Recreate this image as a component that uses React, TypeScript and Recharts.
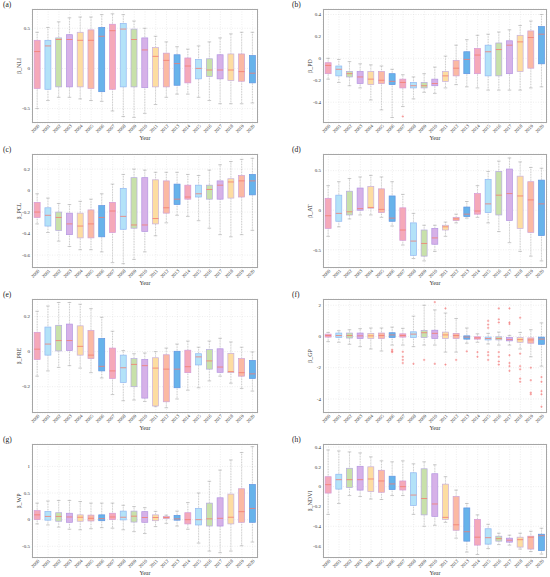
import React from 'react';
import { ComposedChart, Bar, XAxis, YAxis, CartesianGrid } from 'recharts';

const YEARS = [
  '2000', '2001', '2002', '2003', '2004', '2005', '2006', '2007', '2008', '2009', '2010',
  '2011', '2012', '2013', '2014', '2015', '2016', '2017', '2018', '2019', '2020',
];

// each row: [whisker low, q1, median, q3, whisker high]
const NLI = [
  [-0.50, -0.25, 0.21, 0.35, 0.45], [-0.40, -0.26, 0.28, 0.35, 0.51], [-0.36, -0.23, 0.36, 0.38, 0.58],
  [-0.36, -0.23, 0.36, 0.42, 0.63], [-0.38, -0.23, 0.35, 0.45, 0.64], [-0.40, -0.25, 0.35, 0.48, 0.64],
  [-0.41, -0.29, 0.40, 0.51, 0.67], [-0.53, -0.26, 0.47, 0.55, 0.68], [-0.60, -0.23, 0.49, 0.56, 0.67],
  [-0.61, -0.23, 0.36, 0.49, 0.59], [-0.56, -0.24, 0.23, 0.38, 0.50], [-0.45, -0.23, 0.15, 0.26, 0.40],
  [-0.36, -0.23, 0.10, 0.19, 0.33], [-0.32, -0.21, 0.06, 0.17, 0.27], [-0.32, -0.18, 0.03, 0.13, 0.24],
  [-0.36, -0.13, 0.00, 0.11, 0.28], [-0.40, -0.10, -0.02, 0.12, 0.33], [-0.44, -0.13, -0.02, 0.17, 0.38],
  [-0.44, -0.15, -0.02, 0.18, 0.43], [-0.44, -0.16, -0.04, 0.18, 0.45], [-0.43, -0.18, -0.06, 0.16, 0.45],
];

const PD = [
  [-0.19, -0.14, -0.065, -0.04, 0.0], [-0.22, -0.16, -0.10, -0.07, -0.01], [-0.25, -0.17, -0.14, -0.12, -0.03],
  [-0.27, -0.23, -0.17, -0.12, -0.05], [-0.38, -0.24, -0.19, -0.12, -0.06], [-0.47, -0.23, -0.20, -0.12, -0.07],
  [-0.54, -0.24, -0.21, -0.14, -0.10], [-0.44, -0.27, -0.22, -0.19, -0.15], [-0.37, -0.27, -0.25, -0.22, -0.17],
  [-0.31, -0.27, -0.25, -0.22, -0.14], [-0.32, -0.25, -0.23, -0.19, -0.08], [-0.27, -0.21, -0.16, -0.12, 0.02],
  [-0.24, -0.16, -0.09, -0.02, 0.12], [-0.26, -0.14, -0.01, 0.06, 0.17], [-0.27, -0.14, 0.03, 0.09, 0.21],
  [-0.29, -0.16, 0.06, 0.12, 0.22], [-0.29, -0.16, 0.08, 0.14, 0.24], [-0.29, -0.14, 0.12, 0.16, 0.26],
  [-0.29, -0.12, 0.15, 0.21, 0.30], [-0.27, -0.09, 0.19, 0.25, 0.34], [-0.26, -0.05, 0.22, 0.29, 0.40],
];
const PD_OUT: number[][] = [[], [], [], [], [], [], [], [-0.53]];

const PCL = [
  [-0.31, -0.25, -0.20, -0.11, -0.03], [-0.39, -0.33, -0.23, -0.16, -0.07], [-0.47, -0.37, -0.25, -0.20, -0.12],
  [-0.52, -0.41, -0.31, -0.21, -0.13], [-0.55, -0.44, -0.33, -0.21, -0.10], [-0.55, -0.44, -0.31, -0.18, -0.08],
  [-0.57, -0.43, -0.25, -0.14, -0.03], [-0.67, -0.39, -0.19, -0.11, 0.06], [-0.68, -0.36, -0.24, 0.02, 0.15],
  [-0.64, -0.35, -0.32, 0.12, 0.20], [-0.57, -0.38, -0.32, 0.12, 0.19], [-0.42, -0.31, -0.26, 0.10, 0.17],
  [-0.30, -0.21, -0.16, 0.09, 0.17], [-0.23, -0.13, -0.08, 0.06, 0.17], [-0.24, -0.08, -0.06, 0.05, 0.15],
  [-0.28, -0.06, -0.03, 0.05, 0.14], [-0.35, -0.08, 0.01, 0.05, 0.19], [-0.41, -0.08, 0.05, 0.09, 0.24],
  [-0.43, -0.07, 0.08, 0.11, 0.27], [-0.41, -0.06, 0.09, 0.14, 0.29], [-0.37, -0.04, 0.09, 0.15, 0.30],
];

const AT = [
  [-0.33, -0.23, -0.07, 0.15, 0.31], [-0.21, -0.14, -0.04, 0.19, 0.36], [-0.11, -0.06, -0.02, 0.24, 0.40],
  [-0.06, 0.00, 0.02, 0.28, 0.42], [-0.06, 0.025, 0.035, 0.30, 0.44], [-0.09, -0.03, 0.01, 0.27, 0.42],
  [-0.20, -0.14, -0.10, 0.18, 0.36], [-0.44, -0.38, -0.25, 0.03, 0.20], [-0.61, -0.57, -0.39, -0.16, -0.04],
  [-0.64, -0.58, -0.42, -0.25, -0.19], [-0.52, -0.43, -0.35, -0.23, -0.19], [-0.33, -0.25, -0.21, -0.19, -0.15],
  [-0.16, -0.13, -0.11, -0.09, -0.05], [-0.10, -0.08, -0.05, 0.04, 0.11], [-0.09, -0.05, -0.01, 0.21, 0.31],
  [-0.16, -0.03, 0.08, 0.39, 0.49], [-0.27, -0.06, 0.19, 0.49, 0.62], [-0.41, -0.13, 0.21, 0.52, 0.66],
  [-0.52, -0.23, 0.18, 0.43, 0.61], [-0.58, -0.28, 0.13, 0.36, 0.54], [-0.64, -0.32, 0.08, 0.38, 0.53],
];

const PRE = [
  [-0.14, -0.045, 0.014, 0.11, 0.23], [-0.11, -0.02, 0.043, 0.14, 0.26], [-0.09, 0.004, 0.063, 0.15, 0.28],
  [-0.08, 0.006, 0.063, 0.157, 0.28], [-0.094, -0.02, 0.03, 0.147, 0.27], [-0.12, -0.04, -0.02, 0.12, 0.245],
  [-0.15, -0.11, -0.084, 0.075, 0.196], [-0.245, -0.153, -0.11, 0.02, 0.116], [-0.28, -0.176, -0.092, -0.02, 0.006],
  [-0.276, -0.2, -0.073, -0.04, -0.012], [-0.284, -0.265, -0.08, -0.045, -0.008], [-0.314, -0.31, -0.094, -0.035, 0.0],
  [-0.32, -0.286, -0.10, -0.018, 0.02], [-0.27, -0.206, -0.10, 0.002, 0.043], [-0.22, -0.12, -0.086, 0.008, 0.06],
  [-0.206, -0.076, -0.03, -0.012, 0.025], [-0.167, -0.10, -0.053, 0.012, 0.06], [-0.14, -0.118, -0.088, 0.016, 0.076],
  [-0.18, -0.12, -0.114, -0.01, 0.055], [-0.21, -0.14, -0.12, -0.04, 0.025], [-0.225, -0.153, -0.127, -0.05, -0.002],
];

const GP = [
  [-0.33, -0.04, 0.06, 0.15, 0.26], [-0.37, -0.07, 0.06, 0.22, 0.37], [-0.50, -0.10, 0.06, 0.22, 0.43],
  [-0.65, -0.13, 0.04, 0.22, 0.50], [-0.80, -0.13, 0.04, 0.20, 0.54], [-0.93, -0.13, 0.06, 0.22, 0.54],
  [-0.55, -0.07, 0.10, 0.24, 0.60], [-0.55, -0.04, 0.06, 0.17, 0.52], [-0.65, -0.07, 0.15, 0.30, 1.30],
  [-0.55, -0.07, 0.24, 0.39, 2.0], [-0.55, -0.13, 0.20, 0.40, 1.7], [-1.0, -0.13, 0.10, 0.28, 1.5],
  [-1.0, -0.13, 0.06, 0.20, 1.15], [-0.43, -0.17, -0.04, 0.04, 0.54], [-0.37, -0.17, -0.09, -0.02, 0.17],
  [-0.48, -0.22, -0.13, -0.04, 0.20], [-0.55, -0.22, -0.13, -0.02, 0.28], [-0.55, -0.28, -0.20, -0.07, 0.07],
  [-0.80, -0.37, -0.20, -0.07, 0.26], [-1.3, -0.43, -0.22, -0.09, 0.43], [-1.9, -0.50, -0.17, -0.04, 0.87],
];
const GP_OUT: number[][] = [
  [], [], [], [], [], [],
  [-0.85, -0.95, -1.0],
  [-0.98, -1.3, -1.5, -1.7],
  [-1.75],
  [-1.5],
  [2.2, -1.75],
  [1.8, -1.8],
  [-1.5],
  [-0.95],
  [-1.0, -1.3],
  [1.0, 0.76, 0.55, -1.0, -1.2, -1.5],
  [1.8, 1.1, 0.9, -1.0, -1.3, -1.6, -1.8],
  [1.8, 0.9, 0.8, -1.2, -1.7, -1.9, -2.2],
  [1.2, -1.1, -1.9, -2.1, -2.7, -2.9],
  [-2.0, -2.8, -3.6, -3.7],
  [-2.6, -2.9, -3.5, -3.7, -4.5],
];

const WP = [
  [-0.08, 0.0, 0.09, 0.17, 0.31], [-0.10, -0.01, 0.06, 0.155, 0.35], [-0.14, -0.03, 0.06, 0.13, 0.36],
  [-0.18, -0.05, 0.05, 0.12, 0.36], [-0.19, -0.03, 0.045, 0.09, 0.34], [-0.17, -0.025, 0.025, 0.085, 0.31],
  [-0.15, -0.02, 0.02, 0.09, 0.31], [-0.16, 0.0, 0.05, 0.12, 0.31], [-0.19, -0.005, 0.045, 0.16, 0.27],
  [-0.225, -0.045, 0.065, 0.16, 0.245], [-0.26, -0.05, 0.04, 0.15, 0.225], [-0.13, -0.02, 0.04, 0.09, 0.155],
  [-0.07, 0.02, 0.04, 0.06, 0.085], [-0.12, -0.01, 0.015, 0.08, 0.16], [-0.18, -0.08, 0.0, 0.13, 0.32],
  [-0.44, -0.10, 0.0, 0.21, 0.50], [-0.59, -0.12, 0.015, 0.31, 0.72], [-0.62, -0.12, 0.025, 0.41, 0.93],
  [-0.59, -0.08, 0.045, 0.48, 1.12], [-0.49, -0.05, 0.15, 0.58, 1.26], [-0.42, -0.05, 0.21, 0.66, 1.37],
];

const NDVI = [
  [-0.28, -0.065, 0.02, 0.10, 0.37], [-0.17, -0.025, 0.07, 0.125, 0.36], [-0.09, -0.01, 0.07, 0.185, 0.35],
  [-0.10, -0.035, 0.07, 0.205, 0.34], [-0.125, -0.05, 0.077, 0.20, 0.30], [-0.13, -0.057, 0.057, 0.165, 0.26],
  [-0.09, -0.03, 0.027, 0.105, 0.25], [-0.09, -0.034, 0.0, 0.057, 0.26], [-0.28, -0.19, -0.085, 0.14, 0.23],
  [-0.40, -0.285, -0.12, 0.18, 0.25], [-0.39, -0.30, -0.175, 0.13, 0.22], [-0.36, -0.33, -0.31, 0.025, 0.10],
  [-0.52, -0.44, -0.385, -0.10, -0.035], [-0.66, -0.55, -0.455, -0.215, -0.17], [-0.685, -0.59, -0.51, -0.33, -0.285],
  [-0.625, -0.58, -0.515, -0.425, -0.38], [-0.585, -0.55, -0.525, -0.50, -0.47], [-0.59, -0.56, -0.54, -0.52, -0.49],
  [-0.63, -0.61, -0.535, -0.51, -0.47], [-0.655, -0.63, -0.51, -0.50, -0.45], [-0.68, -0.645, -0.495, -0.48, -0.42],
];

const FILLS = ['#f5a9b9', '#b3e2f8', '#c8e1aa', '#d6b1e8', '#fddda1', '#fbb9a3', '#67b3ea'];
const EDGES = ['#d69ad6', '#92b8f2', '#b7acdf', '#b394e0', '#c9b0db', '#cfa3d3', '#5f94e2'];

const BoxShape = (props: any) => {
  const { x, y, width, height, payload, index } = props;
  if (!payload || x == null || y == null) return null;
  const top = Math.min(y, y + height);
  const h = Math.abs(height);
  const span = payload.high - payload.low || 1;
  const py = (v: number) => top + ((payload.high - v) / span) * h;
  const cx = x + width / 2;
  const cap = width * 0.3;
  const yQ1 = py(payload.q1);
  const yQ3 = py(payload.q3);
  const yMed = py(payload.med);
  return (
    <g>
      <line x1={cx} x2={cx} y1={py(payload.high)} y2={yQ3} stroke="#a2a2a2" strokeWidth={0.6} strokeDasharray="0.8 0.8" />
      <line x1={cx} x2={cx} y1={yQ1} y2={py(payload.low)} stroke="#a2a2a2" strokeWidth={0.6} strokeDasharray="0.8 0.8" />
      <line x1={cx - cap} x2={cx + cap} y1={py(payload.high)} y2={py(payload.high)} stroke="#a8a8a8" strokeWidth={0.6} />
      <line x1={cx - cap} x2={cx + cap} y1={py(payload.low)} y2={py(payload.low)} stroke="#a8a8a8" strokeWidth={0.6} />
      <rect x={x} y={yQ3} width={width} height={Math.max(yQ1 - yQ3, 0.5)} fill={FILLS[index % 7]} stroke={EDGES[index % 7]} strokeWidth={0.7} />
      <line x1={x} x2={x + width} y1={yMed} y2={yMed} stroke="#f27c70" strokeWidth={0.8} />
      {payload.out.map((v: number, k: number) => {
        const oy = py(v);
        return (
          <g key={k} stroke="#f26a6a" strokeWidth={0.5}>
            <line x1={cx - 1.2} x2={cx + 1.2} y1={oy} y2={oy} />
            <line x1={cx} x2={cx} y1={oy - 1.2} y2={oy + 1.2} />
          </g>
        );
      })}
    </g>
  );
};

// rotated year label under each box
const YearTick = (props: any) => {
  const { x, y, payload } = props;
  return (
    <g transform={`translate(${x},${y}) rotate(-45)`}>
      <text x={0} y={0} dy={3.4} textAnchor="end" fontSize={4.8} fill="#333">
        {payload.value}
      </text>
    </g>
  );
};

type PanelProps = {
  tag: string;
  label: string;
  stats: number[][];
  outliers?: number[][];
  domain: [number, number];
  ticks: number[];
  right?: boolean;
  height: number;
};

const Panel = ({ tag, label, stats, outliers = [], domain, ticks, right = false, height }: PanelProps) => {
  const data = YEARS.map((year, i) => ({
    year,
    low: stats[i][0],
    q1: stats[i][1],
    med: stats[i][2],
    q3: stats[i][3],
    high: stats[i][4],
    out: outliers[i] || [],
  }));
  const left = right ? 24 : 8;
  const marginRight = right ? 3 : 17;
  const marginBottom = height - 145 + 2;
  const plotLeft = left + 24;
  const plotTop = 9;
  const plotW = 275 - plotLeft - marginRight;
  const plotH = height - plotTop - marginBottom - 20;
  const labelX = left + 24 - 13;
  const plotMid = plotTop + plotH / 2;
  return (
    <div style={{ position: 'relative', width: 275, height }}>
      <div style={{ position: 'absolute', left: right ? 17 : 3, top: 0, fontSize: 7.5, color: '#222' }}>{tag}</div>
      <div
        style={{
          position: 'absolute', left: labelX - 30, top: plotMid - 4, width: 60, height: 8, lineHeight: '8px',
          textAlign: 'center', fontSize: 6, color: '#333', transform: 'rotate(-90deg)',
        }}
      >
        {label}
      </div>
      <ComposedChart
        width={275}
        height={height}
        data={data}
        margin={{ top: plotTop, right: marginRight, left, bottom: marginBottom }}
        barCategoryGap="20%"
        style={{ fontFamily: '"Liberation Serif", serif' }}
      >
        <CartesianGrid stroke="#dcdcdc" strokeDasharray="1 1.5" strokeWidth={0.5} />
        <XAxis
          dataKey="year"
          interval={0}
          tickLine={false}
          axisLine={false}
          tickSize={0}
          tickMargin={1}
          height={20}
          tick={YearTick}
          label={{ value: 'Year', position: 'insideBottom', offset: 3, fontSize: 6, fill: '#333' }}
        />
        <YAxis
          type="number"
          domain={domain}
          ticks={ticks}
          allowDataOverflow
          width={24}
          tickLine={false}
          axisLine={false}
          tickSize={0}
          tickMargin={2}
          tick={{ fontSize: 5, fill: '#333' }}
        />
        <Bar dataKey={(d: any) => [d.low, d.high]} shape={BoxShape} isAnimationActive={false} />
      </ComposedChart>
      {/* plot frame */}
      <div
        style={{
          position: 'absolute', left: plotLeft, top: plotTop, width: plotW, height: plotH,
          border: '1px solid #a6a6a6', boxSizing: 'border-box', pointerEvents: 'none',
        }}
      />
    </div>
  );
};

export default function App() {
  return (
    <div
      style={{
        position: 'absolute', top: 0, left: 0, width: 550, height: 577, background: '#fff',
        display: 'grid', gridTemplateColumns: '275px 275px', gridTemplateRows: '145px 145px 145px 142px',
        fontFamily: '"Liberation Serif", "Times New Roman", serif',
      }}
    >
      <Panel tag="(a)" label="β_NLI" stats={NLI} domain={[-0.68, 0.74]} ticks={[-0.5, 0, 0.5]} height={145} />
      <Panel tag="(b)" label="β_PD" stats={PD} outliers={PD_OUT} domain={[-0.59, 0.45]} ticks={[-0.4, -0.2, 0, 0.2, 0.4]} right height={145} />
      <Panel tag="(c)" label="β_PCL" stats={PCL} domain={[-0.72, 0.34]} ticks={[-0.6, -0.4, -0.2, 0, 0.2]} height={145} />
      <Panel tag="(d)" label="β_AT" stats={AT} domain={[-0.73, 0.71]} ticks={[-0.5, 0, 0.5]} right height={145} />
      <Panel tag="(e)" label="β_PRE" stats={PRE} domain={[-0.35, 0.30]} ticks={[-0.2, 0, 0.2]} height={145} />
      <Panel tag="(f)" label="β_GP" stats={GP} outliers={GP_OUT} domain={[-4.9, 2.4]} ticks={[-4, -2, 0, 2]} right height={145} />
      <Panel tag="(g)" label="β_WP" stats={WP} domain={[-0.72, 1.42]} ticks={[-0.5, 0, 0.5, 1]} height={142} />
      <Panel tag="(h)" label="β_NDVI" stats={NDVI} domain={[-0.72, 0.43]} ticks={[-0.6, -0.4, -0.2, 0, 0.2, 0.4]} right height={142} />
    </div>
  );
}
